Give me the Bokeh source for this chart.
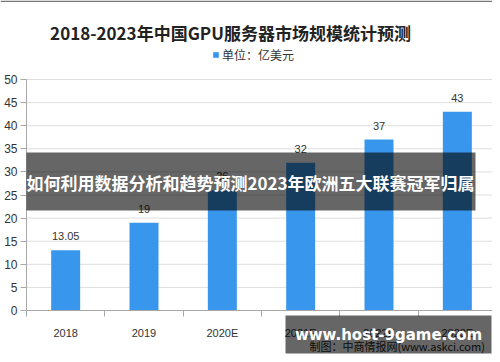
from bokeh.plotting import figure
from bokeh.models import ColumnDataSource, Range1d, FixedTicker, Label, BoxAnnotation
from bokeh.core.properties import value
from bokeh.embed import file_html
from bokeh.resources import INLINE

# ---- data ----
years = ["2018", "2019", "2020E", "2021E", "2022E", "2023E"]
market = [13.05, 19, 26, 32, 37, 43]
market_labels = ["13.05", "19", "26", "32", "37", "43"]
y_ticks = [0, 5, 10, 15, 20, 25, 30, 35, 40, 45, 50]

title_text = "2018-2023年中国GPU服务器市场规模统计预测"
legend_text = "单位：亿美元"
banner_text = "如何利用数据分析和趋势预测2023年欧洲五大联赛冠军归属"
source_text = "制图：中商情报网(www.askci.com)"
site_text = "www.host-9game.com"

xs = list(range(len(years)))
src = ColumnDataSource(dict(x=xs, v=market, lab=market_labels))
grid_src = ColumnDataSource(dict(y=y_ticks[1:]))

CJK = "Noto Sans CJK SC"
BAR = "#3896ec"
W, H = 492, 354

# layout: the frame fills the canvas; axes are pinned inside it
x_lo, x_hi = -0.5, len(years) - 0.5
px_x = (496 - 26) / (x_hi - x_lo)
px_y = (310 - 79) / 50.0
x_range = Range1d(x_lo - 26 / px_x, x_lo + (W - 26) / px_x)
y_range = Range1d(-(H - 310) / px_y, 50 + 79 / px_y)

p = figure(width=W, height=H, output_backend="svg", toolbar_location=None,
           x_range=x_range, y_range=y_range,
           min_border_left=0, min_border_right=0, min_border_top=0, min_border_bottom=0)
p.outline_line_color = None
p.background_fill_color = "white"
p.border_fill_color = "white"
p.xgrid.visible = False
p.ygrid.visible = False

# grid lines at the tick values
p.segment(x0=x_lo, x1=x_hi, y0="y", y1="y", source=grid_src, line_color="#dedede", line_width=1)

p.vbar(x="x", top="v", width=0.37, source=src, fill_color=BAR, line_color=None,
       legend_label=legend_text)
p.text(x="x", y="v", text="lab", source=src, text_align="center", text_baseline="middle",
       y_offset=-14, text_font=value("Liberation Sans"), text_font_size="11px",
       text_color="#333333")

AX = "#a8a8a8"
ya = p.yaxis[0]
ya.fixed_location = x_lo
ya.bounds = (0, 50)
ya.ticker = FixedTicker(ticks=y_ticks)
ya.axis_line_color = AX
ya.major_tick_line_color = AX
ya.major_tick_out = 6
ya.major_tick_in = 0
ya.minor_tick_line_color = None
ya.major_label_standoff = 3
ya.major_label_text_font = "Liberation Sans"
ya.major_label_text_font_size = "12px"
ya.major_label_text_color = "#333333"

xa = p.xaxis[0]
xa.fixed_location = 0
xa.bounds = (x_lo, x_hi)
xa.ticker = FixedTicker(ticks=xs, minor_ticks=[i - 0.5 for i in range(len(years) + 1)])
xa.major_label_overrides = {i: y for i, y in zip(xs, years)}
xa.axis_line_color = AX
xa.major_tick_line_color = None
xa.major_tick_out = 0
xa.minor_tick_line_color = AX
xa.minor_tick_out = 6
xa.minor_tick_in = 0
xa.major_label_standoff = 10
xa.major_label_text_font = "Liberation Sans"
xa.major_label_text_font_size = "11px"
xa.major_label_text_color = "#333333"

# legend
lg = p.legend[0]
lg.location = (212, 291)
lg.orientation = "horizontal"
lg.border_line_color = None
lg.background_fill_alpha = 0
lg.padding = 0
lg.margin = 0
lg.glyph_width = 7
lg.glyph_height = 7
lg.label_height = 14
lg.label_standoff = 3
lg.label_text_font = CJK
lg.label_text_font_size = "12px"
lg.label_text_color = "#333333"


def box(l, r, t, b, color, alpha):
    return BoxAnnotation(left=l, right=r, top=t, bottom=b,
                         left_units="screen", right_units="screen",
                         top_units="screen", bottom_units="screen",
                         fill_color=color, fill_alpha=alpha, line_color=None)


# top rule and title
p.add_layout(box(0, W, H, H - 1.5, "#777777", 1))
p.add_layout(Label(x=230, y=322, x_units="screen", y_units="screen", text=title_text,
                   text_align="center", text_baseline="middle", text_font=CJK,
                   text_font_size="17px", text_font_style="bold", text_color="#222222"))

# overlay banner
p.add_layout(box(26, 475, 202, 144, "black", 0.6))
p.add_layout(Label(x=250, y=172, x_units="screen", y_units="screen", text=banner_text,
                   text_align="center", text_baseline="middle", text_font=CJK,
                   text_font_size="17px", text_font_style="bold", text_color="white"))

# source note and site box
p.add_layout(Label(x=309, y=9, x_units="screen", y_units="screen", text=source_text,
                   text_align="left", text_baseline="middle", text_font=CJK,
                   text_font_size="11px", text_color="#222222"))
p.add_layout(box(285, 491, 39, 1, "black", 0.6))
p.add_layout(Label(x=388, y=20, x_units="screen", y_units="screen", text=site_text,
                   text_align="center", text_baseline="middle", text_font="DejaVu Sans",
                   text_font_size="15px", text_font_style="bold", text_color="white"))

open("out.html", "w").write(file_html(p, INLINE))
